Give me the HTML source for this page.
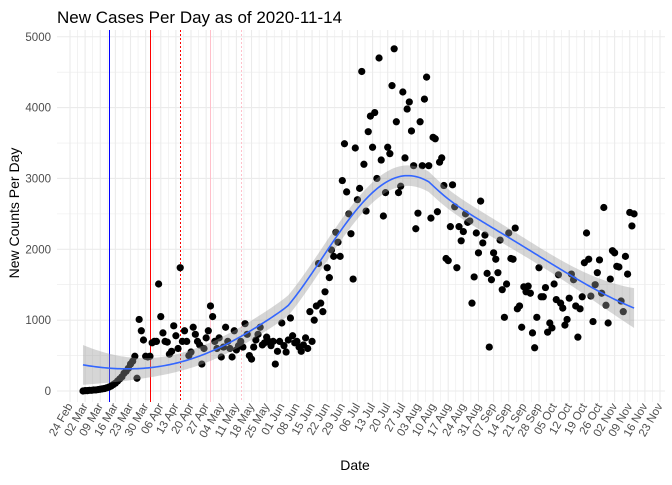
<!DOCTYPE html>
<html><head><meta charset="utf-8"><style>
body{margin:0;background:#fff;}
svg text{font-family:"Liberation Sans",sans-serif;}
</style></head><body>
<svg id="chart" width="672" height="480" xmlns="http://www.w3.org/2000/svg">
<text x="57" y="23" font-size="17" fill="#000">New Cases Per Day as of 2020-11-14</text>
<text transform="translate(19,213) rotate(-90)" text-anchor="middle" font-size="14" fill="#000">New Counts Per Day</text>
<text x="355" y="470" text-anchor="middle" font-size="14" fill="#000">Date</text>
<g id="grid"></g><g id="vlines"></g><g id="pts"></g><g id="smooth"></g><g id="ticks"></g>
</svg>
<script>
const yTicks=[0,1000,2000,3000,4000,5000];
const xTickLabels=["24 Feb","02 Mar","09 Mar","16 Mar","23 Mar","30 Mar","06 Apr","13 Apr","20 Apr","27 Apr","04 May","11 May","18 May","25 May","01 Jun","08 Jun","15 Jun","22 Jun","29 Jun","06 Jul","13 Jul","20 Jul","27 Jul","03 Aug","10 Aug","17 Aug","24 Aug","31 Aug","07 Sep","14 Sep","21 Sep","28 Sep","05 Oct","12 Oct","19 Oct","26 Oct","02 Nov","09 Nov","16 Nov","23 Nov"];
const firstDay=6; // days since 24 Feb (1 Mar); one value per consecutive day
const newCases=[
0,5,5,10,10,15,15,20,25,30,35,45,55,70,90,110,140,170,200,250,280,320,380,420,490,180,1010,850,720,490,480,
490,680,700,700,1510,1050,820,700,690,520,560,920,780,600,1740,700,850,700,500,550,900,800,700,650,380,600,750,850,1200,1050,
700,600,750,480,620,900,700,600,480,850,580,640,700,620,950,800,500,450,620,720,800,900,650,680,760,700,640,700,380,560,700,
960,640,550,720,1030,780,680,700,620,560,650,750,600,1120,700,1000,1200,
1800,1240,1120,1400,1740,1600,1990,1900,2240,2100,1900,2970,3490,2810,2500,2220,1580,3430,2700,2860,4510,3200,2540,3660,3880,3440,3930,3000,4700,3260,2470,2800,3440,3350,4310,4830,3800,2800,2890,4220,3290,3980,4080,3670,3180,2290,2510,3800,3180,4120,4430,3180,2440,3580,3560,2530,3230,3290,2900,1870,1840,2320,2910,2600,1740,2320,2120,2250,2500,2380,2400,
1240,1610,2230,1950,2680,2090,2200,1660,620,1570,1950,1860,1670,2130,1430,1040,1510,2230,1870,1860,2300,1160,1200,900,1470,1400,1480,1380,820,610,1040,1740,1330,1330,1460,830,960,890,1510,1290,1640,1240,1170,930,1010,1310,1650,1570,1200,760,1160,1330,1810,2230,1860,1340,980,1500,1670,1850,1380,2590,1210,960,1580,1980,1950,1760,1750,1270,1120,1900,1650,2520,2330,2500];
const eventDays=[18,37,51,65,79];
const eventColors=["#0000ff","#ff0000","#ff0000","#ffc0cb","#ffc0cb"];
const eventDash=["","","2,2","","2,2"];

const NS="http://www.w3.org/2000/svg";
const L=57,R=665,T=30,B=402;
const X=d=>70+d*2.1612;
const Y=v=>391-v*0.07085;
function mk(tag,at,parent){const e=document.createElementNS(NS,tag);for(const k in at)e.setAttribute(k,at[k]);parent.appendChild(e);return e;}
const grid=document.getElementById('grid');
const bg=mk('rect',{x:L,y:T,width:R-L,height:B-T,fill:'#fff'},grid);


for(let v=-500;v<=5000;v+=500){if(Y(v)>B)continue;const l=mk('line',{x1:L,x2:R,y1:Y(v),y2:Y(v),stroke:'#ebebeb','stroke-width':v%1000===0?1.1:0.6},grid);

}
for(let d=0;d<=276;d+=3.5){const l=mk('line',{x1:X(d),x2:X(d),y1:T,y2:B,stroke:'#ebebeb','stroke-width':(d%7===0)?1.1:0.6},grid);

}
const ticks=document.getElementById('ticks');
yTicks.forEach(v=>{const t=mk('text',{x:51,y:Y(v)+4,'text-anchor':'end','font-size':11.5,fill:'#4d4d4d'},ticks);t.textContent=v;

});
xTickLabels.forEach((s,i)=>{const x=X(i*7);const t=mk('text',{transform:`translate(${x+3},${B+4}) rotate(-60)`,'text-anchor':'end','font-size':11.5,fill:'#4d4d4d'},ticks);t.textContent=s;

});
const vl=document.getElementById('vlines');
eventDays.forEach((d,i)=>{const x=Math.round(X(d))+0.5;const l=mk('line',{x1:x,x2:x,y1:T,y2:B,stroke:eventColors[i],'stroke-width':1},vl);if(eventDash[i])l.setAttribute('stroke-dasharray',eventDash[i]);

});
const pts=document.getElementById('pts');
const xs=newCases.map((v,i)=>firstDay+i);
newCases.forEach((v,i)=>{const c=mk('circle',{cx:X(xs[i]),cy:Y(v),r:3.6,fill:'#000'},pts);

});
const n=xs.length,q=Math.floor(0.75*n);
function inv3(m){const[a,b,c]=m[0],[d,e,f]=m[1],[g,h,i]=m[2];const A=e*i-f*h,B2=-(d*i-f*g),C=d*h-e*g;const det=a*A+b*B2+c*C;
return [[A/det,-(b*i-c*h)/det,(b*f-c*e)/det],[B2/det,(a*i-c*g)/det,-(a*f-c*d)/det],[C/det,-(a*h-b*g)/det,(a*e-b*d)/det]];}
function fitAt(x0){const dist=xs.map(x=>Math.abs(x-x0));const sd=[...dist].sort((a,b)=>a-b);const h=sd[q-1]*1.0001;
const w=dist.map(d=>{const u=d/h;return u<1?Math.pow(1-u*u*u,3):0;});
const S=[[0,0,0],[0,0,0],[0,0,0]];for(let j=0;j<n;j++){const z=[1,xs[j]-x0,(xs[j]-x0)**2];for(let a=0;a<3;a++)for(let b=0;b<3;b++)S[a][b]+=w[j]*z[a]*z[b];}
const inv=inv3(S);const l=[];let fit=0;for(let j=0;j<n;j++){const z=[1,xs[j]-x0,(xs[j]-x0)**2];const lj=w[j]*(inv[0][0]*z[0]+inv[0][1]*z[1]+inv[0][2]*z[2]);l.push(lj);fit+=lj*newCases[j];}
return {fit,l};}
let rss=0;xs.forEach((x,j)=>{rss+=(newCases[j]-fitAt(x).fit)**2;});const sigma=Math.sqrt(rss/(n-8));
const sm=[];for(let x=xs[0];x<=xs[n-1];x+=1){const r=fitAt(x);const se=sigma*Math.sqrt(r.l.reduce((s,v)=>s+v*v,0));sm.push([x,r.fit,se*1.97]);}
const sg=document.getElementById('smooth');
const band=sm.map(p=>`${X(p[0])},${Y(p[1]+p[2])}`).concat(sm.slice().reverse().map(p=>`${X(p[0])},${Y(p[1]-p[2])}`));
const poly=mk('polygon',{points:band.join(' '),fill:'#999999','fill-opacity':0.4},sg);


const line=mk('polyline',{points:sm.map(p=>`${X(p[0])},${Y(p[1])}`).join(' '),fill:'none',stroke:'#3366ff','stroke-width':1.6},sg);


</script>
</body></html>
